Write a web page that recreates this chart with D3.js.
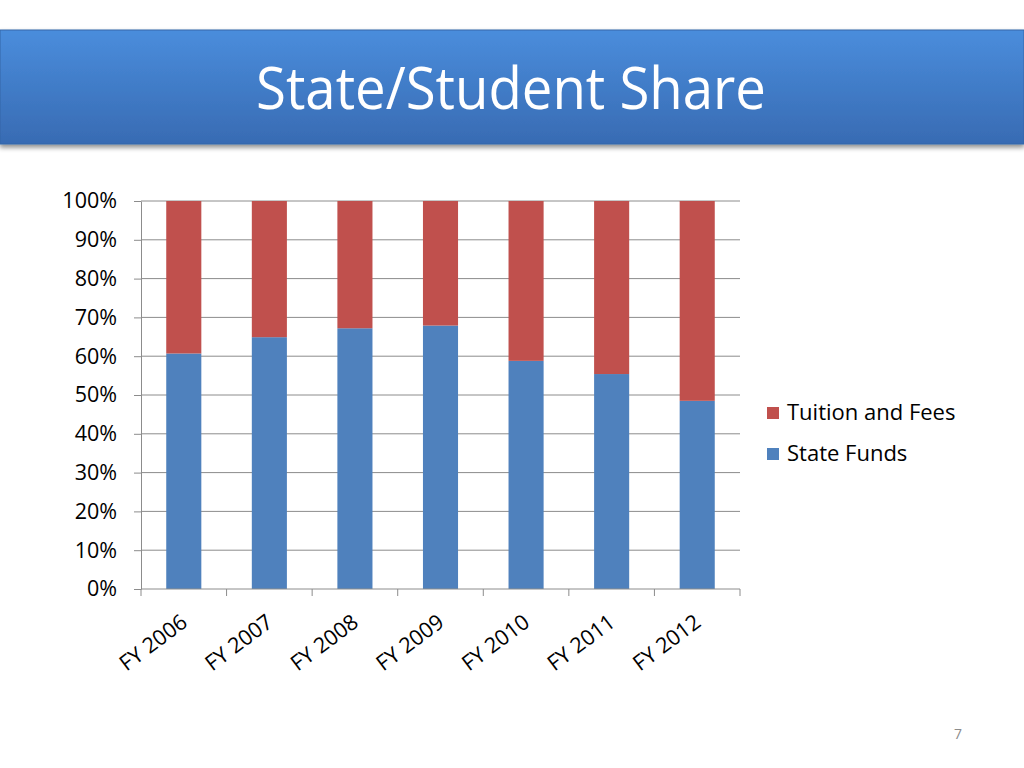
<!DOCTYPE html>
<html>
<head>
<meta charset="utf-8">
<script src="https://cdn.jsdelivr.net/npm/d3@7"></script>
<style>
  body { margin: 0; background: #fff; }
  svg { display: block; font-family: "Open Sans", "Noto Sans", sans-serif; }
</style>
</head>
<body>
<div id="chart"></div>
<script>
// Chart data
const years = ["FY 2006", "FY 2007", "FY 2008", "FY 2009", "FY 2010", "FY 2011", "FY 2012"];
const stateFunds = [60.7, 64.9, 67.2, 67.9, 58.8, 55.4, 48.5];
const tuitionFees = [39.3, 35.1, 32.8, 32.1, 41.2, 44.6, 51.5];
const seriesNames = ["State Funds", "Tuition and Fees"];
const seriesColors = ["#4f81bd", "#c0504d"];
const yTicks = [0, 10, 20, 30, 40, 50, 60, 70, 80, 90, 100];

const W = 1024, H = 768;
const svg = d3.select("#chart").append("svg")
  .attr("width", W).attr("height", H);

const defs = svg.append("defs");
const grad = defs.append("linearGradient").attr("id", "titleGrad")
  .attr("x1", 0).attr("y1", 0).attr("x2", 0).attr("y2", 1);
grad.append("stop").attr("offset", "0%").attr("stop-color", "#4a8ddc");
grad.append("stop").attr("offset", "100%").attr("stop-color", "#386bb3");
const shadow = defs.append("filter").attr("id", "shadow")
  .attr("x", "-5%").attr("y", "-20%").attr("width", "110%").attr("height", "150%");
shadow.append("feDropShadow").attr("dx", 0).attr("dy", 3).attr("stdDeviation", 2.5)
  .attr("flood-color", "#000").attr("flood-opacity", 0.45);

// title banner
svg.append("rect")
  .attr("x", 0).attr("y", 30).attr("width", W).attr("height", 114)
  .attr("fill", "url(#titleGrad)")
  .attr("stroke", "#3566a8").attr("stroke-width", 1)
  .attr("filter", "url(#shadow)");
svg.append("text")
  .attr("x", 511).attr("y", 109)
  .attr("text-anchor", "middle")
  .attr("fill", "#fff")
  .attr("font-size", 58)
  .attr("textLength", 510).attr("lengthAdjust", "spacingAndGlyphs")
  .text("State/Student Share");

// plot area
const margin = {top: 201, left: 141, right: 284, bottom: 179};
const width = W - margin.left - margin.right;
const height = H - margin.top - margin.bottom;
const g = svg.append("g").attr("transform", "translate(" + margin.left + "," + margin.top + ")");

const x = d3.scaleBand().domain(years).range([0, width]).paddingInner(0.59).paddingOuter(0.295);
const xOuter = d3.scaleBand().domain(years).range([0, width]);
const y = d3.scaleLinear().domain([0, 100]).range([height, 0]);

// gridlines
g.append("g").selectAll("line")
  .data(yTicks.filter(d => d > 0))
  .enter().append("line")
  .attr("x1", 0).attr("x2", width)
  .attr("y1", d => y(d)).attr("y2", d => y(d))
  .attr("stroke", "#8c8c8c").attr("stroke-width", 1);

// stacked bars
const rows = years.map((yr, i) => ({year: yr, "State Funds": stateFunds[i], "Tuition and Fees": tuitionFees[i]}));
const stacked = d3.stack().keys(seriesNames)(rows);
g.selectAll("g.series")
  .data(stacked)
  .enter().append("g")
  .attr("class", "series")
  .attr("fill", (d, i) => seriesColors[i])
  .selectAll("rect")
  .data(d => d)
  .enter().append("rect")
  .attr("x", d => x(d.data.year))
  .attr("width", x.bandwidth())
  .attr("y", d => y(d[1]))
  .attr("height", d => y(d[0]) - y(d[1]));

// y axis
const yAxis = g.append("g")
  .call(d3.axisLeft(y).tickValues(yTicks).tickFormat(d => d + "%").tickSize(7).tickSizeOuter(0));
yAxis.select(".domain").attr("stroke", "#8c8c8c");
yAxis.selectAll(".tick line").attr("stroke", "#8c8c8c");
yAxis.selectAll(".tick text")
  .attr("x", -24)
  .attr("font-size", 21.5)
  .attr("font-family", "Open Sans, sans-serif")
  .attr("fill", "#000");

// x axis with ticks between categories
const xAxisG = g.append("g").attr("transform", "translate(0," + height + ")");
xAxisG.append("line")
  .attr("x1", 0).attr("x2", width)
  .attr("stroke", "#8c8c8c");
xAxisG.selectAll("line.tk")
  .data([0].concat(years.map(d => xOuter(d) + xOuter.bandwidth())))
  .enter().append("line")
  .attr("class", "tk")
  .attr("x1", d => d).attr("x2", d => d)
  .attr("y1", 0).attr("y2", 7)
  .attr("stroke", "#8c8c8c");
xAxisG.selectAll("text")
  .data(years)
  .enter().append("text")
  .attr("transform", d => "translate(" + (xOuter(d) + xOuter.bandwidth() / 2 + 5) + ",36) rotate(-37)")
  .attr("text-anchor", "end")
  .attr("font-size", 21.5)
  .attr("fill", "#000")
  .text(d => d);

// legend
const legendItems = ["Tuition and Fees", "State Funds"];
const legend = svg.append("g").attr("transform", "translate(767,407)");
legendItems.forEach((name, i) => {
  const row = legend.append("g").attr("transform", "translate(0," + (i * 41) + ")");
  row.append("rect").attr("width", 12).attr("height", 12)
    .attr("fill", seriesColors[seriesNames.indexOf(name)]);
  row.append("text").attr("x", 20).attr("y", 13)
    .attr("font-size", 22).attr("fill", "#000")
    .text(name);
});

// page number
svg.append("text")
  .attr("x", 958).attr("y", 739)
  .attr("text-anchor", "middle")
  .attr("font-size", 14).attr("fill", "#8c8c8c")
  .text("7");
</script>
</body>
</html>
